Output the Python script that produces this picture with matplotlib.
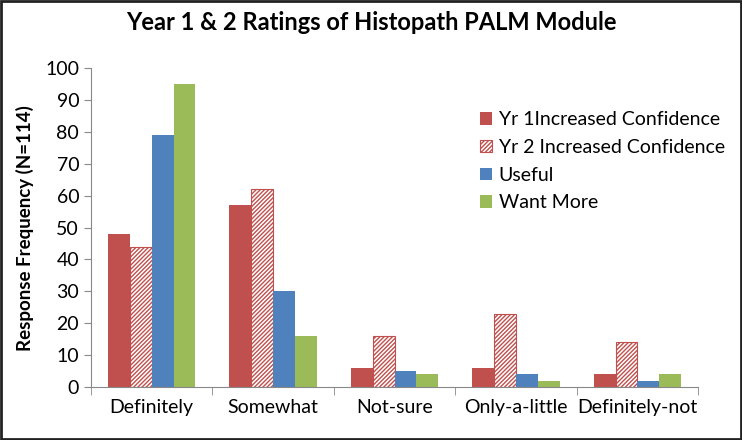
import matplotlib
matplotlib.use("Agg")
import matplotlib.pyplot as plt
import numpy as np

plt.rcParams['font.family'] = ['Lato', 'DejaVu Sans']
plt.rcParams['hatch.linewidth'] = 1.0

categories = ["Definitely", "Somewhat", "Not-sure", "Only-a-little", "Definitely-not"]
yr1_conf = [48, 57, 6, 6, 4]
yr2_conf = [44, 62, 16, 23, 14]
useful = [79, 30, 5, 4, 2]
want_more = [95, 16, 4, 2, 4]

series_names = ["Yr 1Increased Confidence", "Yr 2 Increased Confidence", "Useful", "Want More"]

red = '#C0504D'
blue = '#4F81BD'
green = '#9BBB59'

fig = plt.figure(figsize=(7.42, 4.40), dpi=100)
ax = fig.add_axes([0.1226, 0.1205, 0.8184, 0.7245])

x = np.arange(len(categories))
w = 0.18
offs = np.array([-1.5, -0.5, 0.5, 1.5]) * w

ax.bar(x + offs[0], yr1_conf, w, color=red, label=series_names[0])
ax.bar(x + offs[1], yr2_conf, w, color='white', edgecolor=red, hatch='////////',
       linewidth=0.8, label=series_names[1])
ax.bar(x + offs[2], useful, w, color=blue, label=series_names[2])
ax.bar(x + offs[3], want_more, w, color=green, label=series_names[3])

ax.set_xlim(-0.5, len(categories) - 0.5)
ax.set_ylim(0, 100)
ax.set_yticks(range(0, 101, 10))
ax.set_xticks(x)
ax.set_xticklabels(categories, fontsize=14)
ax.set_xticks(np.arange(-0.5, len(categories), 1), minor=True)
ax.tick_params(axis='x', which='major', length=0, pad=9)
ax.tick_params(axis='x', which='minor', length=6, color='#888888', direction='out')
ax.tick_params(axis='y', labelsize=14, length=5, color='#888888', direction='out')

for s in ['top', 'right']:
    ax.spines[s].set_visible(False)
for s in ['left', 'bottom']:
    ax.spines[s].set_color('#888888')

ax.set_ylabel("Response Frequency (N=114)", fontsize=13.5, fontweight='bold', labelpad=8)
fig.suptitle("Year 1 & 2 Ratings of Histopath PALM Module", fontsize=17,
             fontweight='bold', y=0.975)

ax.legend(loc='upper left', bbox_to_anchor=(0.612, 0.92), frameon=False, fontsize=14,
          handlelength=0.6, handleheight=0.6, handletextpad=0.35, labelspacing=0.55)

fig.patches.append(plt.Rectangle((0.002, 0.003), 0.996, 0.994, transform=fig.transFigure,
                                 fill=False, edgecolor='#222222', linewidth=2))

fig.savefig("out.png", dpi=100)
